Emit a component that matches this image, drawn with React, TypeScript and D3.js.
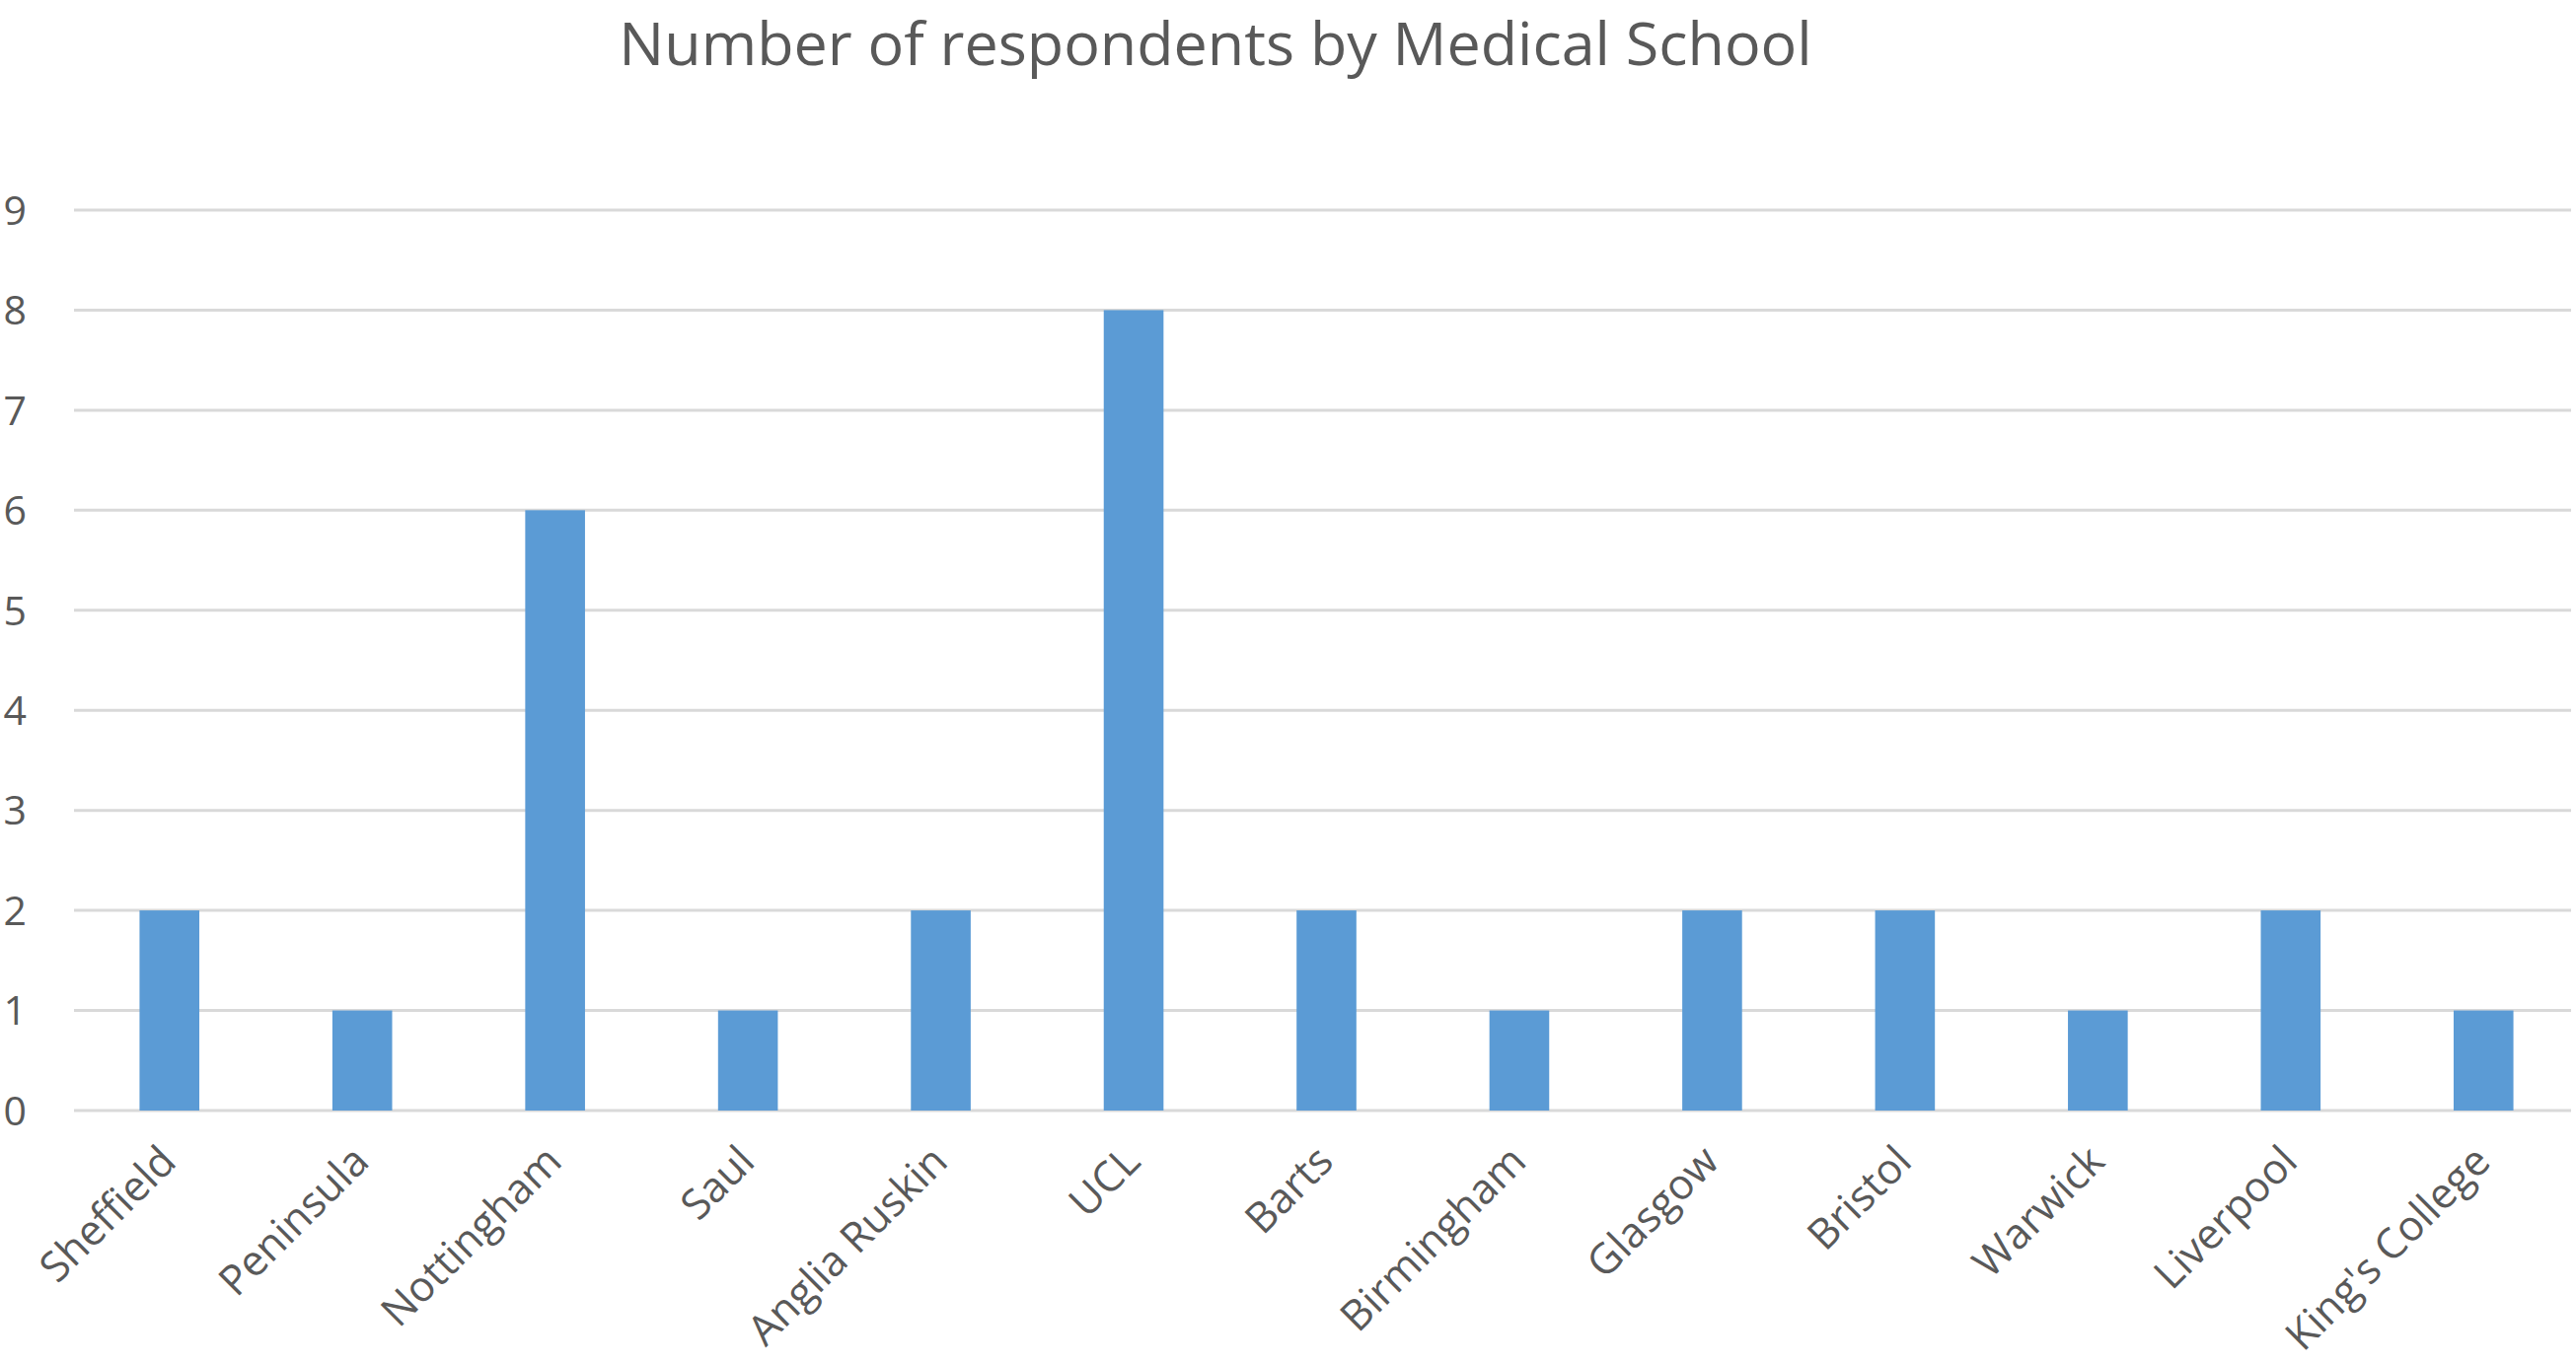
import React from "react";
import * as d3 from "d3";

const categories = ["Sheffield", "Peninsula", "Nottingham", "Saul", "Anglia Ruskin", "UCL", "Barts", "Birmingham", "Glasgow", "Bristol", "Warwick", "Liverpool", "King's College"];
const values = [2, 1, 6, 1, 2, 8, 2, 1, 2, 2, 1, 2, 1];
const yTicks = [0, 1, 2, 3, 4, 5, 6, 7, 8, 9];
const title = "Number of respondents by Medical School";

const W = 2611;
const H = 1383;
const left = 75;
const right = 2606;
const top = 213;
const bottom = 1126;
const font = "'Open Sans', 'Noto Sans', sans-serif";
const textColor = "#595959";

export default function App() {
  const x = d3.scaleBand<string>().domain(categories).range([74, 2615]).paddingInner(0.69).paddingOuter(0.345);
  const y = d3.scaleLinear().domain([0, 9]).range([bottom, top]);
  return (
    <svg width={W} height={H} viewBox={`0 0 ${W} ${H}`} style={{ position: "absolute", left: 0, top: 0, background: "#fff" }}>
      <rect x={0} y={0} width={W} height={H} fill="#fff" />
      <text x={1232} y={66} textAnchor="middle" fontFamily={font} fontSize={61} fill={textColor}>{title}</text>
      {yTicks.map((t) => (
        <g key={t}>
          <line x1={left} x2={right} y1={y(t)} y2={y(t)} stroke="#D9D9D9" strokeWidth={3} />
          <text x={27} y={y(t)} dy="0.36em" textAnchor="end" fontFamily={font} fontSize={41} fill={textColor}>{t}</text>
        </g>
      ))}
      {categories.map((c, i) => (
        <rect key={c} x={x(c)} y={y(values[i])} width={x.bandwidth()} height={y(0) - y(values[i])} fill="#5B9BD5" />
      ))}
      {categories.map((c) => {
        const cx = (x(c) as number) + x.bandwidth() / 2 + 9;
        const cy = bottom + 54;
        return (
          <text key={c} x={cx} y={cy} textAnchor="end" transform={`rotate(-45 ${cx} ${cy})`} fontFamily={font} fontSize={42.5} fill={textColor}>{c}</text>
        );
      })}
    </svg>
  );
}
